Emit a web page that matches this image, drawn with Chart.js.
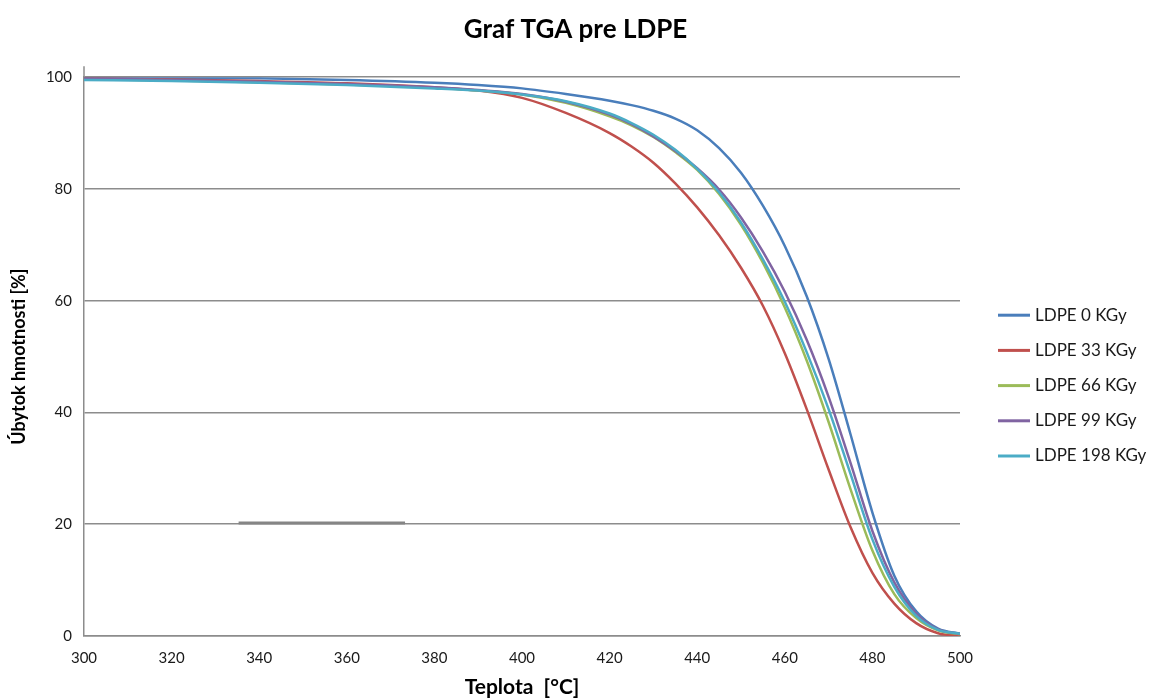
<!DOCTYPE html>
<html>
<head>
<meta charset="utf-8">
<script src="https://cdn.jsdelivr.net/npm/chart.js@4.4.1/dist/chart.umd.min.js"></script>
<style>
    html, body { margin: 0; padding: 0; background: #fff; }
    #wrap { width: 1151px; height: 700px; }
</style>
</head>
<body>
<div id="wrap"><canvas id="tga"></canvas></div>
<script>
// teplota [°C]
const temps = [300, 320, 340, 360, 380, 390, 400, 410, 420, 425, 430, 435, 440, 445, 450, 455, 460, 465, 470, 475, 480, 485, 490, 495, 500];

// úbytok hmotnosti [%] pre jednotlivé dávky
const ldpe0   = [100, 99.9, 99.8, 99.5, 99.0, 98.6, 98.0, 97.0, 95.8, 95.0, 94.0, 92.6, 90.5, 87.3, 82.9, 77.0, 69.8, 60.8, 49.6, 36.1, 22.1, 10.8, 4.4, 1.3, 0.4];
const ldpe33  = [99.8, 99.6, 99.3, 98.9, 98.2, 97.6, 96.3, 93.6, 90.0, 87.6, 84.7, 81.0, 76.7, 71.7, 65.9, 59.1, 50.6, 40.6, 29.8, 19.5, 11.3, 5.8, 2.3, 0.5, 0];
const ldpe66  = [99.7, 99.4, 99.1, 98.7, 98.1, 97.6, 96.9, 95.4, 93.0, 91.4, 89.3, 86.6, 83.4, 79.1, 73.6, 66.8, 58.8, 49.3, 38.3, 26.3, 15.3, 7.5, 3.2, 1.0, 0.3];
const ldpe99  = [99.8, 99.5, 99.2, 98.8, 98.2, 97.7, 97.0, 95.6, 93.3, 91.6, 89.4, 86.8, 83.7, 79.9, 74.9, 68.8, 61.6, 53.0, 42.8, 31.0, 18.8, 9.6, 4.0, 1.2, 0.4];
const ldpe198 = [99.5, 99.3, 99.0, 98.6, 98.0, 97.6, 96.9, 95.7, 93.5, 91.8, 89.7, 87.0, 83.6, 79.4, 74.0, 67.4, 59.8, 50.8, 40.6, 29.0, 17.3, 8.8, 3.6, 1.1, 0.4];

const seriesNames = ['LDPE 0 KGy', 'LDPE 33 KGy', 'LDPE 66 KGy', 'LDPE 99 KGy', 'LDPE 198 KGy'];
const seriesColors = ['#4A7EBB', '#C0504D', '#9BBB59', '#8064A2', '#4BACC6'];
const seriesValues = [ldpe0, ldpe33, ldpe66, ldpe99, ldpe198];

// krátky tmavší úsek na čiare 20 %
const segTemps = [335.3, 373.3];
const segValues = [20.2, 20.2];

const FONT = 'Lato, "Open Sans", sans-serif';

const toPoints = (xs, ys) => xs.map((x, i) => ({ x: x, y: ys[i] }));

const datasets = seriesValues.map((vals, i) => ({
    label: seriesNames[i],
    data: toPoints(temps, vals),
    borderColor: seriesColors[i],
    backgroundColor: seriesColors[i],
    borderWidth: 2.5,
    pointRadius: 0,
    cubicInterpolationMode: 'monotone',
    yAxisID: 'y',
    order: seriesValues.length - i,
}));

datasets.push({
    label: 'seg',
    data: toPoints(segTemps, segValues),
    borderColor: '#858585',
    borderWidth: 3,
    pointRadius: 0,
    yAxisID: 'y',
    order: 10,
});

// legenda vpravo + predĺženie osi Y nad 100
const sidePlugin = {
    id: 'sideLegend',
    afterDraw(chart) {
        const { ctx, chartArea } = chart;
        ctx.save();
        ctx.strokeStyle = '#8c8c8c';
        ctx.lineWidth = 1.5;
        ctx.beginPath();
        ctx.moveTo(chartArea.left, chartArea.top - 11);
        ctx.lineTo(chartArea.left, chartArea.top);
        ctx.stroke();

        const x0 = chartArea.right + 38;
        const yMid = (chartArea.top + chartArea.bottom) / 2 + 29;
        const step = 35.2;
        ctx.font = '17px ' + FONT;
        ctx.textBaseline = 'middle';
        ctx.textAlign = 'left';
        seriesNames.forEach((name, i) => {
            const y = yMid + (i - 2) * step;
            ctx.strokeStyle = seriesColors[i];
            ctx.lineWidth = 3;
            ctx.beginPath();
            ctx.moveTo(x0, y);
            ctx.lineTo(x0 + 32, y);
            ctx.stroke();
            ctx.fillStyle = '#1a1a1a';
            ctx.fillText(name, x0 + 37, y);
        });
        ctx.restore();
    }
};

const ctx = document.getElementById('tga').getContext('2d');
new Chart(ctx, {
    type: 'line',
    data: { datasets: datasets },
    options: {
        responsive: true,
        maintainAspectRatio: false,
        animation: false,
        layout: { padding: 0 },
        plugins: {
            legend: { display: false },
            tooltip: { enabled: false },
            title: {
                display: true,
                text: 'Graf TGA pre LDPE',
                color: '#000',
                font: { family: FONT, size: 26, weight: 'bold' },
                padding: { top: 14, bottom: 32 },
            },
        },
        scales: {
            x: {
                type: 'linear',
                min: 300,
                max: 500,
                afterFit: s => { s.height = 64; },
                ticks: {
                    stepSize: 20,
                    padding: 13,
                    color: '#1a1a1a',
                    font: { family: FONT, size: 15 },
                },
                grid: { display: false, drawTicks: false },
                border: { display: true, color: '#8c8c8c', width: 1.5 },
                title: {
                    display: true,
                    text: 'Teplota  [°C]',
                    color: '#000',
                    font: { family: FONT, size: 21, weight: 'bold' },
                    padding: { top: 0, bottom: 0 },
                },
            },
            y: {
                min: 0,
                max: 100,
                afterFit: s => { s.width = 84; },
                ticks: {
                    stepSize: 20,
                    padding: 12,
                    color: '#1a1a1a',
                    font: { family: FONT, size: 15 },
                },
                grid: { color: '#8c8c8c', lineWidth: 1.5, drawTicks: false },
                border: { display: true, color: '#8c8c8c', width: 1.5 },
                title: {
                    display: true,
                    text: 'Úbytok hmotnosti [%]',
                    color: '#000',
                    font: { family: FONT, size: 18, weight: 'bold' },
                    padding: { top: 8, bottom: 0 },
                },
            },
            // prázdny pás vpravo pre legendu
            side: {
                position: 'right',
                afterFit: s => { s.width = 191; },
                ticks: { display: false },
                grid: { display: false, drawTicks: false },
                border: { display: false },
            },
        },
    },
    plugins: [sidePlugin],
});
</script>
</body>
</html>
